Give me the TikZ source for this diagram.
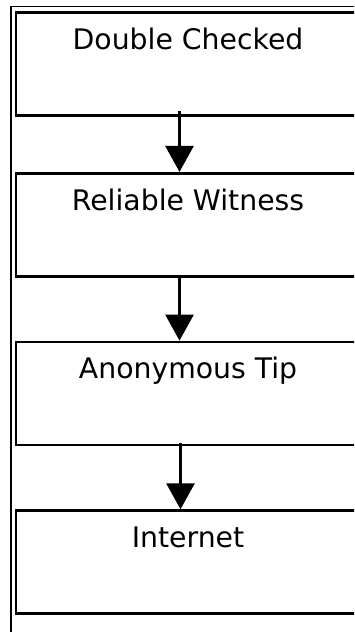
\documentclass[tikz,border=0pt]{standalone}
\usepackage{fontspec}
\setmainfont{DejaVu Sans}
\usetikzlibrary{arrows.meta,positioning}

\tikzset{
  levelbox/.style={rectangle, draw=black, line width=2.7pt, inner sep=0pt,
    minimum width=344pt, text height=37pt, text depth=66pt,
    font=\fontsize{28.3}{34}\selectfont, anchor=north},
  flow/.style={-{Triangle[width=28pt,length=26pt]}, line width=2.8pt},
}

\begin{document}
\begin{tikzpicture}[x=1pt,y=1pt]
  \useasboundingbox (0,0) rectangle (354,632);
  \clip (0,0) rectangle (354,632);
  % outer frame
  \draw[line width=1.8pt] (11,-20) rectangle (366,625.5);
  % source levels
  \node[levelbox] (double) at (188,620.8) {Double Checked};
  \node[levelbox, below=55pt of double] (witness) {Reliable Witness};
  \node[levelbox, below=63pt of witness] (tip) {Anonymous Tip};
  \node[levelbox, below=63pt of tip] (internet) {Internet};
  % arrows
  \draw[flow] ([xshift=-8.5pt,yshift=6pt]double.south) -- ([xshift=-8.5pt]witness.north);
  \draw[flow] ([xshift=-8.5pt]witness.south) -- ([xshift=-8.5pt]tip.north);
  \draw[flow] ([xshift=-7.5pt,yshift=3pt]tip.south) -- ([xshift=-7.5pt]internet.north);
\end{tikzpicture}
\end{document}
